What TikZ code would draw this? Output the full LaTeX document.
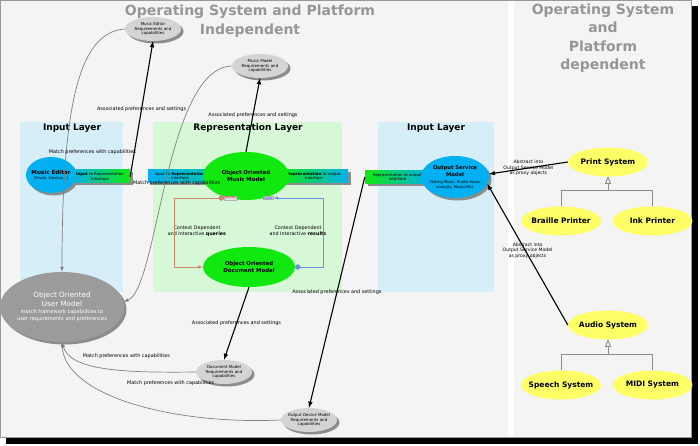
\documentclass[tikz,border=0pt]{standalone}
\usepackage{fontspec}
\setmainfont{DejaVu Sans}
\usepackage{xcolor}
\usepackage{tikz}
\usetikzlibrary{shapes,arrows,positioning,calc,shadows}

\definecolor{bggray}{RGB}{244,244,244}
\definecolor{titlegray}{RGB}{150,150,150}
\definecolor{inblue}{RGB}{214,238,248}
\definecolor{repgreen}{RGB}{214,248,214}
\definecolor{svccyan}{RGB}{0,176,240}
\definecolor{modgreen}{RGB}{16,232,16}
\definecolor{reqgray}{RGB}{212,212,212}
\definecolor{usergray}{RGB}{155,155,155}
\definecolor{devyellow}{RGB}{255,255,102}
\definecolor{qred}{RGB}{205,135,105}
\definecolor{rblue}{RGB}{110,140,230}

\begin{document}
\begin{tikzpicture}[
    x=1pt, y=-1pt,
    shade/.style={drop shadow={shadow xshift=2.5pt, shadow yshift=-2.5pt, opacity=1, fill=black!45}},
    bigtitle/.style={align=center, text=titlegray, font=\fontsize{14}{18.5}\selectfont\bfseries},
    layertitle/.style={font=\fontsize{9}{11}\selectfont\bfseries},
    req/.style={ellipse, fill=reqgray, minimum width=56, minimum height=24, inner sep=0pt, inner xsep=-3pt, align=center, font=\fontsize{4}{4.8}\selectfont, shade},
    svc/.style={ellipse, fill=svccyan, inner sep=0pt, align=center, font=\fontsize{3.7}{5}\selectfont, shade},
    model/.style={ellipse, fill=modgreen, inner sep=0pt, align=center, font=\fontsize{5.4}{6.8}\selectfont\bfseries},
    user/.style={ellipse, fill=usergray, text=white, inner sep=0pt, align=center, font=\fontsize{5.1}{7}\selectfont, shade},
    dev/.style={ellipse, fill=devyellow, minimum width=80, minimum height=29, inner sep=0pt, inner xsep=-4pt, font=\fontsize{7.5}{9}\selectfont\bfseries},
    iface/.style={rectangle, minimum height=13, inner sep=0pt, align=center, font=\fontsize{3.9}{4.6}\selectfont, shade},
    tag/.style={rectangle, fill=black!12, draw=black!30, inner sep=0.6pt, font=\fontsize{2.8}{3}\selectfont},
    ctx/.style={align=center, font=\fontsize{4.8}{6}\selectfont},
    lbl/.style={font=\fontsize{4.9}{5.5}\selectfont},
    abstr/.style={align=center, font=\fontsize{4.6}{5.3}\selectfont},
    assoc/.style={-latex, line width=1.1pt},
    match/.style={-latex, draw=black!50, line width=0.7pt},
    gen/.style={-open triangle 45, draw=black!45, line width=0.6pt},
    qline/.style={*-latex, draw=qred, line width=0.6pt},
    rline/.style={*-latex, draw=rblue, line width=0.6pt}
]
    \useasboundingbox (0,0) rectangle (700,446);
    \fill[black] (6,6) rectangle (698,444);
    \filldraw[fill=bggray, draw=black!40] (0,0) rectangle (691,437);
    \fill[white] (508,1) rectangle (514,436);

    \fill[inblue] (20,122) rectangle (123,292);
    \fill[repgreen] (153,122) rectangle (342,292);
    \fill[inblue] (378,122) rectangle (494,292);

    \node[bigtitle] (indep) at (250,21) {Operating System and Platform\\Independent};
    \node[bigtitle] (dep) at (603,38) {Operating System\\and\\Platform\\dependent};
    \node[layertitle] (inlayer) at (72,128) {Input Layer};
    \node[layertitle] (replayer) at (248,128) {Representation Layer};
    \node[layertitle] (outlayer) at (436,128) {Input Layer};

    \node[req] (mereq) at (153,29) {Music Editor\\Requirements and\\capabilities};
    \node[req] (mmreq) at (260,66) {Music Model\\Requirements and\\capabilities};
    \node[req] (dmreq) at (224,372) {Document Model\\Requirements and\\capabilities};
    \node[req] (odreq) at (309,420) {Output Device Model\\Requirements and\\capabilities};

    \node[svc, minimum width=50, minimum height=36, inner xsep=-6pt] (medit) at (51,175) {{\fontsize{5.6}{6}\selectfont\bfseries Music Editor}\\(Finale, Sibelius...)};
    \node[iface, minimum width=60, left color=svccyan, right color=modgreen] (mebar) at (100,176.5) {\textbf{Input} to Representation\\interface};

    \node[iface, minimum width=64, left color=svccyan, right color=svccyan!70!modgreen] (repin) at (180,176) {Input to \textbf{Representation}\\interface};
    \node[iface, minimum width=68, left color=modgreen, right color=svccyan] (repout) at (314,176) {\textbf{Representation} to output\\interface};
    \node[model, minimum width=86, minimum height=48] (mm) at (246,176) {Object Oriented\\Music Model};
    \node[model, minimum width=92, minimum height=40] (dm) at (249,267) {Object Oriented\\Document Model};
    \node[tag, text=red] (qtag) at (230,198) {queries};
    \node[tag, text=blue] (rtag) at (268,198) {results};
    \node[ctx] (qlbl) at (197,231) {Context Dependent\\and Interactive \textbf{queries}};
    \node[ctx] (rlbl) at (298,231) {Context Dependent\\and Interactive \textbf{results}};

    \node[iface, minimum width=65, left color=modgreen, right color=svccyan] (outbar) at (397.5,177) {Representation to output\\interface};
    \node[svc, minimum width=68, minimum height=42, inner xsep=-9pt] (osm) at (455,177) {{\fontsize{5.2}{6}\selectfont\bfseries Output Service}\\[1pt]{\fontsize{5.2}{6}\selectfont\bfseries Model}\\[2pt](Talking Music, Braille Music,\\analysis, MusicXML)};

    \node[user, minimum width=124, minimum height=70, inner xsep=-14pt] (um) at (62,307) {{\fontsize{7.2}{8}\selectfont Object Oriented}\\[2pt]{\fontsize{7.2}{8}\selectfont User Model}\\match framework capabilities to\\user requirements and preferences};

    \node[dev] (print) at (608,162) {Print System};
    \node[dev] (braille) at (561,221) {Braille Printer};
    \node[dev, right=11pt of braille] (ink) {Ink Printer};
    \node[dev] (audio) at (608,325) {Audio System};
    \node[dev] (speech) at (561,385) {Speech System};
    \node[dev, right=11pt of speech] (midi) {MIDI System};

    \draw[qline] (qtag.west) -- ++(-50,0) |- (dm.west);
    \draw[rline] (dm.east) -- ++(28,0) |- (rtag.east);

    \draw[assoc] (mebar.east) -- node[lbl] {Associated preferences and settings} (mereq.south);
    \draw[assoc] (mm.north) -- node[lbl] {Associated preferences and settings} (mmreq.south);
    \draw[assoc] (dm.south) -- node[lbl] {Associated preferences and settings} (dmreq.north);
    \draw[assoc] (outbar.west) -- node[lbl] {Associated preferences and settings} (odreq.north);

    \draw[match] (mereq.west) .. controls +(-45,3) and +(0,-170) .. node[lbl, pos=0.72, xshift=26pt] {Match preferences with capabilities} (um.north);
    \draw[match] (mmreq.west) .. controls (165,68) and (158,290) .. node[lbl, pos=0.51, xshift=12pt] {Match preferences with capabilities} (um.5);
    \draw[match] (dmreq.west) .. controls (120,373) and (70,370) .. node[lbl, pos=0.35, yshift=15pt] {Match preferences with capabilities} (um.south);
    \draw[match] (odreq.west) .. controls (170,425) and (65,395) .. node[lbl, pos=0.35, yshift=30pt] {Match preferences with capabilities} (um.south);

    \draw[assoc] (print.west) -- node[abstr] {Abstract into\\Output Service Model\\as proxy objects} (osm.5);
    \draw[assoc] (audio.west) -- node[abstr, yshift=4pt] {Abstract into\\Output Service Model\\as proxy objects} (osm.-12);

    \draw[gen] (braille.north) -- ++(0,-16) -| (print.south);
    \draw[gen] (ink.north) -- ++(0,-16) -| (print.south);
    \draw[gen] (speech.north) -- ++(0,-16) -| (audio.south);
    \draw[gen] (midi.north) -- ++(0,-16) -| (audio.south);
\end{tikzpicture}
\end{document}
